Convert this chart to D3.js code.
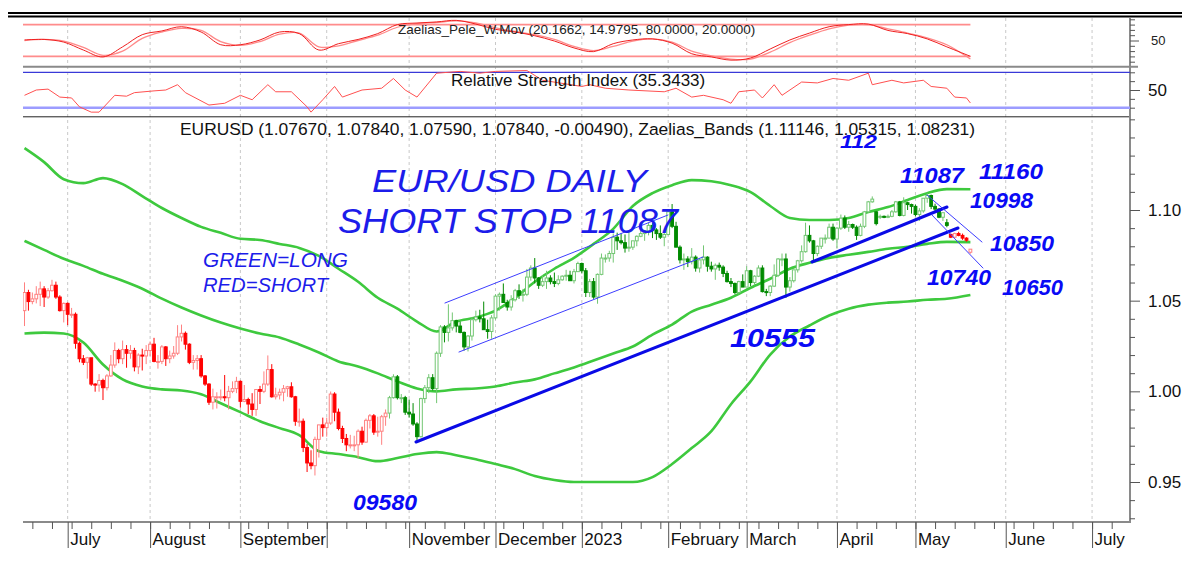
<!DOCTYPE html>
<html><head><meta charset="utf-8">
<script src="https://cdn.jsdelivr.net/npm/d3@7"></script>
<style>
body{margin:0;background:#fff}
svg{display:block}
text{font-family:"Liberation Sans",Arial,sans-serif}
</style>
</head><body>
<svg id="c" width="1184" height="564"></svg>
<script>
// ---------------- DATA ----------------
const startDate = "2022-06-16";
const open = [
 1.0445,1.0545,1.0495,1.0510,1.0535,1.0565,1.0520,1.0555,1.0585,1.0520,1.0445,
 1.0485,1.0425,1.0425,1.0265,1.0180,1.0160,1.0185,1.0040,1.0035,1.0060,1.0020,1.0085,1.0145,1.0225,1.0180,1.0230,1.0210,1.0225,1.0135,1.0200,1.0195,
 1.0225,1.0260,1.0165,1.0165,1.0245,1.0180,1.0195,1.0210,1.0300,1.0320,1.0260,1.0160,1.0170,1.0180,1.0085,1.0040,0.9940,0.9970,0.9970,0.9970,0.9965,1.0000,1.0015,
 1.0055,0.9945,0.9955,0.9930,0.9900,1.0010,1.0000,1.0040,1.0120,0.9970,0.9980,0.9995,1.0015,1.0025,0.9970,0.9835,0.9835,0.9690,0.9605,0.9590,0.9735,0.9815,
 0.9800,0.9825,0.9985,0.9885,0.9795,0.9740,0.9705,0.9705,0.9705,0.9780,0.9720,0.9840,0.9865,0.9775,0.9780,0.9860,0.9880,0.9965,1.0080,0.9965,0.9965,
 0.9885,0.9875,0.9820,0.9750,0.9960,1.0020,1.0075,1.0015,1.0210,1.0355,1.0325,1.0350,1.0390,1.0360,1.0325,1.0245,1.0305,1.0395,1.0410,1.0400,1.0340,1.0330,
 1.0405,1.0525,1.0535,1.0490,1.0465,1.0505,1.0555,1.0530,1.0535,1.0630,1.0680,1.0625,1.0585,1.0605,1.0625,1.0605,1.0595,1.0615,1.0635,1.0640,1.0610,1.0660,
 1.0705,1.0665,1.0545,1.0605,1.0520,1.0645,1.0735,1.0735,1.0760,1.0850,1.0830,1.0820,1.0790,1.0795,1.0830,1.0855,1.0870,1.0885,1.0915,1.0890,1.0870,1.0850,
 1.0865,1.0990,1.0910,1.0795,1.0725,1.0730,1.0715,1.0740,1.0680,1.0725,1.0740,1.0690,1.0675,1.0695,1.0685,1.0650,1.0605,1.0595,1.0545,1.0605,
 1.0575,1.0665,1.0600,1.0635,1.0680,1.0550,1.0545,1.0580,1.0640,1.0730,1.0730,1.0575,1.0610,1.0670,1.0720,1.0770,1.0860,1.0830,1.0760,1.0800,1.0845,1.0845,1.0905,
 1.0840,1.0900,1.0955,1.0905,1.0920,1.0905,1.0860,1.0910,1.0990,1.1045,1.0990,1.0960,1.0965,1.0960,1.0965,1.0990,1.1045,1.0970,1.1040,1.1030,
 1.1020,1.0975,1.0995,1.1065,1.1080,1.1020,1.1005,1.0960,1.0930,1.0865,1.0850,1.0870,1.0860,1.0845,1.0767
];
const high = [
 1.0601,1.0560,1.0545,1.0580,1.0605,1.0580,1.0570,1.0615,1.0605,1.0530,1.0490,
 1.0490,1.0460,1.0435,1.0275,1.0200,1.0190,1.0185,1.0045,1.0095,1.0070,1.0095,1.0200,1.0270,1.0235,1.0280,1.0255,1.0255,1.0240,1.0210,1.0235,1.0255,
 1.0275,1.0295,1.0200,1.0255,1.0250,1.0225,1.0250,1.0365,1.0368,1.0330,1.0265,1.0200,1.0200,1.0200,1.0090,1.0045,1.0015,0.9995,1.0010,1.0090,1.0030,1.0055,1.0080,
 1.0060,1.0035,0.9965,0.9990,1.0010,1.0030,1.0110,1.0198,1.0150,1.0020,1.0015,1.0035,1.0030,1.0050,0.9975,0.9905,0.9850,0.9710,0.9675,0.9750,0.9815,0.9855,
 0.9855,0.9999,0.9995,0.9905,0.9810,0.9765,0.9760,0.9755,0.9790,0.9805,0.9850,0.9875,0.9875,0.9860,0.9870,0.9900,0.9975,1.0094,1.0090,0.9985,0.9975,
 0.9955,0.9935,0.9830,0.9965,1.0035,1.0095,1.0095,1.0220,1.0365,1.0365,1.0480,1.0435,1.0395,1.0385,1.0330,1.0310,1.0410,1.0445,1.0450,1.0495,1.0395,1.0420,
 1.0535,1.0545,1.0595,1.0505,1.0530,1.0565,1.0590,1.0565,1.0675,1.0695,1.0735,1.0630,1.0640,1.0665,1.0640,1.0655,1.0640,1.0640,1.0670,1.0665,1.0675,1.0715,
 1.0710,1.0680,1.0620,1.0625,1.0650,1.0760,1.0755,1.0775,1.0870,1.0875,1.0870,1.0865,1.0890,1.0830,1.0860,1.0925,1.0890,1.0930,1.0930,1.0900,1.0915,1.0875,
 1.0995,1.1033,1.0935,1.0805,1.0760,1.0745,1.0790,1.0750,1.0735,1.0805,1.0745,1.0715,1.0705,1.0710,1.0695,1.0665,1.0625,1.0600,1.0610,1.0645,
 1.0690,1.0670,1.0640,1.0695,1.0695,1.0565,1.0585,1.0700,1.0735,1.0760,1.0760,1.0630,1.0670,1.0725,1.0805,1.0930,1.0915,1.0835,1.0805,1.0845,1.0865,1.0925,1.0925,
 1.0905,1.0975,1.0970,1.0940,1.0925,1.0915,1.0925,1.0995,1.1050,1.1075,1.0995,1.0975,1.0970,1.0975,1.1000,1.1050,1.1050,1.1070,1.1045,1.1035,
 1.1030,1.1010,1.1065,1.1092,1.1085,1.1035,1.1010,1.0985,1.0950,1.0870,1.0875,1.0880,1.0870,1.0850,1.0784
];
const low = [
 1.0360,1.0445,1.0480,1.0485,1.0470,1.0465,1.0510,1.0550,1.0510,1.0440,1.0380,
 1.0365,1.0405,1.0235,1.0160,1.0145,1.0070,1.0030,0.9998,0.9998,0.9952,1.0005,1.0080,1.0130,1.0155,1.0150,1.0130,1.0180,1.0110,1.0095,1.0115,1.0150,
 1.0195,1.0160,1.0125,1.0150,1.0140,1.0155,1.0180,1.0200,1.0275,1.0230,1.0150,1.0120,1.0120,1.0075,1.0030,0.9925,0.9900,0.9905,0.9950,0.9945,0.9900,0.9990,0.9990,
 0.9910,0.9940,0.9875,0.9865,0.9865,0.9930,0.9990,1.0030,0.9965,0.9955,0.9955,0.9945,0.9970,0.9965,0.9810,0.9805,0.9665,0.9555,0.9570,0.9536,0.9635,0.9750,
 0.9750,0.9815,0.9835,0.9785,0.9715,0.9670,0.9685,0.9670,0.9632,0.9705,0.9715,0.9795,0.9760,0.9750,0.9705,0.9810,0.9850,0.9960,0.9955,0.9935,0.9870,
 0.9855,0.9810,0.9730,0.9745,0.9935,0.9990,1.0005,0.9935,1.0190,1.0270,1.0275,1.0335,1.0325,1.0320,1.0225,1.0220,1.0280,1.0385,1.0380,1.0340,1.0290,1.0290,
 1.0395,1.0445,1.0490,1.0445,1.0445,1.0495,1.0510,1.0495,1.0525,1.0610,1.0595,1.0565,1.0575,1.0565,1.0590,1.0575,1.0585,1.0610,1.0610,1.0610,1.0595,1.0660,
 1.0650,1.0520,1.0520,1.0510,1.0483,1.0640,1.0710,1.0715,1.0710,1.0780,1.0810,1.0765,1.0770,1.0780,1.0800,1.0850,1.0830,1.0860,1.0845,1.0835,1.0840,1.0800,
 1.0860,1.0900,1.0795,1.0705,1.0670,1.0685,1.0700,1.0660,1.0655,1.0700,1.0660,1.0660,1.0615,1.0665,1.0630,1.0600,1.0575,1.0535,1.0535,1.0575,
 1.0575,1.0580,1.0585,1.0630,1.0545,1.0525,1.0525,1.0575,1.0630,1.0690,1.0515,1.0550,1.0600,1.0655,1.0710,1.0765,1.0820,1.0715,1.0745,1.0785,1.0815,1.0845,1.0830,
 1.0790,1.0890,1.0895,1.0880,1.0895,1.0835,1.0855,1.0900,1.0985,1.1040,1.0915,1.0950,1.0955,1.0955,1.0960,1.0985,1.0965,1.0965,1.1000,1.0980,
 1.0965,1.0940,1.0985,1.1040,1.1005,1.0995,1.0955,1.0940,1.0905,1.0845,1.0845,1.0855,1.0835,1.0825,1.0759
];
const close = [
 1.0545,1.0495,1.0510,1.0535,1.0565,1.0520,1.0555,1.0585,1.0520,1.0445,1.0485,
 1.0425,1.0425,1.0265,1.0180,1.0160,1.0185,1.0040,1.0035,1.0060,1.0020,1.0085,1.0145,1.0225,1.0180,1.0230,1.0210,1.0225,1.0135,1.0200,1.0195,1.0225,
 1.0260,1.0165,1.0165,1.0245,1.0180,1.0195,1.0210,1.0300,1.0320,1.0260,1.0160,1.0170,1.0180,1.0085,1.0040,0.9940,0.9970,0.9970,0.9970,0.9965,1.0000,1.0015,1.0055,
 0.9945,0.9955,0.9930,0.9900,1.0010,1.0000,1.0040,1.0120,0.9970,0.9980,0.9995,1.0015,1.0025,0.9970,0.9835,0.9835,0.9690,0.9605,0.9590,0.9735,0.9815,0.9800,
 0.9825,0.9985,0.9885,0.9795,0.9740,0.9705,0.9705,0.9705,0.9780,0.9720,0.9840,0.9865,0.9775,0.9780,0.9860,0.9880,0.9965,1.0080,0.9965,0.9965,0.9885,
 0.9875,0.9820,0.9750,0.9960,1.0020,1.0075,1.0015,1.0210,1.0355,1.0325,1.0350,1.0390,1.0360,1.0325,1.0245,1.0305,1.0395,1.0410,1.0400,1.0340,1.0330,1.0405,
 1.0525,1.0535,1.0490,1.0465,1.0505,1.0555,1.0530,1.0535,1.0630,1.0680,1.0625,1.0585,1.0605,1.0625,1.0605,1.0595,1.0615,1.0635,1.0640,1.0610,1.0660,1.0705,
 1.0665,1.0545,1.0605,1.0520,1.0645,1.0735,1.0735,1.0760,1.0850,1.0830,1.0820,1.0790,1.0795,1.0830,1.0855,1.0870,1.0885,1.0915,1.0890,1.0870,1.0850,1.0865,
 1.0990,1.0910,1.0795,1.0725,1.0730,1.0715,1.0740,1.0680,1.0725,1.0740,1.0690,1.0675,1.0695,1.0685,1.0650,1.0605,1.0595,1.0545,1.0605,1.0575,
 1.0665,1.0600,1.0635,1.0680,1.0550,1.0545,1.0580,1.0640,1.0730,1.0730,1.0575,1.0610,1.0670,1.0720,1.0770,1.0860,1.0830,1.0760,1.0800,1.0845,1.0845,1.0905,1.0840,
 1.0900,1.0955,1.0905,1.0920,1.0905,1.0860,1.0910,1.0990,1.1045,1.1060,1.0925,1.0965,1.0960,1.0965,1.0990,1.1045,1.0970,1.1040,1.1030,1.1020,
 1.0975,1.0995,1.1065,1.1080,1.1020,1.1005,1.0960,1.0985,1.0915,1.0850,1.0870,1.0860,1.0845,1.0833,1.0784
];
// trading signal changes (date of first bar of each regime)
const signalDates = ["2022-06-16","2022-10-25","2023-05-12"];
const signalKinds = ["short","long","short"];

// Zaelias bands sampled at bar indices
const bandIdx = [0,5,10,15,20,25,30,35,40,45,50,55,60,65,70,75,80,85,90,95,100,105,110,115,120,125,130,135,140,145,150,155,160,165,170,175,180,185,190,195,200,205,210,215,220,225,230,235,241];
const bandUpper = [1.1341,1.1264,1.1170,1.1148,1.1176,1.1143,1.1077,1.1011,1.0956,1.0907,1.0874,1.0841,1.0835,1.0813,1.0791,1.0747,1.0676,1.0604,1.0516,1.0456,1.0385,1.0330,1.0385,1.0407,1.0445,1.0516,1.0604,1.0676,1.0736,1.0813,1.0896,1.1022,1.1093,1.1137,1.1165,1.1159,1.1137,1.1099,1.1022,1.0956,1.0945,1.0945,1.0956,1.0989,1.1016,1.1055,1.1093,1.1115,1.11146];
const bandMiddle = [1.0830,1.0780,1.0731,1.0692,1.0648,1.0610,1.0566,1.0511,1.0462,1.0418,1.0379,1.0346,1.0319,1.0297,1.0258,1.0214,1.0165,1.0137,1.0099,1.0055,1.0016,1.0000,1.0011,1.0016,1.0027,1.0049,1.0066,1.0099,1.0132,1.0170,1.0209,1.0247,1.0313,1.0368,1.0440,1.0478,1.0516,1.0571,1.0621,1.0676,1.0709,1.0736,1.0753,1.0769,1.0786,1.0797,1.0813,1.0824,1.08231];
const bandLower = [1.0319,1.0324,1.0319,1.0269,1.0148,1.0066,1.0027,1.0011,1.0005,0.9984,0.9934,0.9885,0.9835,0.9797,0.9758,0.9670,0.9654,0.9637,0.9615,0.9632,0.9654,0.9665,0.9648,0.9626,0.9599,0.9571,0.9533,0.9511,0.9500,0.9500,0.9500,0.9500,0.9527,0.9599,0.9687,0.9780,0.9929,1.0055,1.0203,1.0302,1.0363,1.0418,1.0456,1.0478,1.0489,1.0495,1.0505,1.0511,1.05315];

// Zaelias_Pele_W.Mov oscillator (two lines), same sample indices
const peleFast = [51,52,47,32,19,38,61,68,76,66,42,42,51,66,63,32,44,52,63,80,83,85,88,81,71,66,59,49,36,29,44,51,53,45,25,19,13,17,34,51,64,76,80,81,69,63,53,38,20.1662];
const peleSlow = [50,52,49,37,22,30,54,66,73,69,48,41,48,62,64,38,40,50,60,75,82,84,87,83,74,67,61,52,39,31,39,49,53,47,30,21,15,15,28,46,60,72,79,80,72,64,55,42,14.9795];
const peleLevels = [80, 20];

// RSI
const rsiIdx = [0,3,6,9,12,14,17,19,23,26,28,33,36,39,41,47,51,55,58,62,64,68,72,73,76,79,81,86,91,94,97,100,105,111,116,120,128,132,142,144,148,154,163,166,170,173,178,180,182,186,188,191,193,198,202,206,210,215,216,221,224,229,231,235,237,240,241];
const rsiVal = [44,50,51,42,41,31,25,25,44,43,47,49,50,56,47,33,35,44,39,56,48,48,31,25,39,54,42,50,52,63,50,42,69,71,69,71,72,61,54,56,52,50,48,52,42,44,39,35,48,50,41,56,44,59,58,63,61,69,56,61,58,61,54,52,42,41,35.3433];
const rsiLevels = [70, 30];

// axis labels
const monthLabels = ["July","August","September","","November","December","2023","February","March","April","May","June","July"];
const priceMajor = [0.95,1.00,1.05,1.10];

// drawn trend lines [barIndex, price]
const trendLines = [
  {a:[99.75,0.97206], b:[237.83,1.09007], w:3},
  {a:[200.64,1.07132], b:[235.03,1.10165], w:3},
  {a:[107.13,1.04871], b:[163.95,1.09724], w:1},
  {a:[110.70,1.02169], b:[172.87,1.07408], w:1},
  {a:[229.94,1.10827], b:[243.95,1.08235], w:1},
  {a:[231.21,1.09724], b:[244.20,1.06801], w:1}
];

// ---------------- DRAW ----------------
const svg = d3.select("#c");
const L = 23, R = 1130;
const X = d3.scaleLinear().domain([0, 241]).range([24.5, 970.4]);
const Y = d3.scaleLinear().domain([0.95, 1.10]).range([482, 210]);
const Y1 = d3.scaleLinear().domain([0, 100]).range([67, 14]);
const Y2 = d3.scaleLinear().domain([0, 100]).range([134.25, 45.75]);

function tradingDays(start, n){
  const out=[]; const d=new Date(start+"T00:00:00Z");
  while(out.length<n){ const wd=d.getUTCDay(); if(wd!==0&&wd!==6) out.push(new Date(d)); d.setUTCDate(d.getUTCDate()+1); }
  return out;
}
const days = tradingDays(startDate, 283);
const fmt = d3.utcFormat("%Y-%m-%d");
const monthStarts = [], mondays = [];
for(let i=1;i<days.length;i++){
  if(days[i].getUTCMonth()!==days[i-1].getUTCMonth()) monthStarts.push(i);
  if(days[i].getUTCDay()===1) mondays.push(i);
}

const defs = svg.append("defs");
defs.append("clipPath").attr("id","cm").append("rect").attr("x",L).attr("y",118).attr("width",R-L).attr("height",404);
defs.append("clipPath").attr("id","c1").append("rect").attr("x",L).attr("y",18).attr("width",R-L).attr("height",48);
defs.append("clipPath").attr("id","c2").append("rect").attr("x",L).attr("y",68).attr("width",R-L).attr("height",48);

// gridlines
svg.append("g").selectAll("line").data(monthStarts.filter(i=>X(i)<R)).join("line")
  .attr("x1",i=>X(i)).attr("x2",i=>X(i)).attr("y1",18).attr("y2",522)
  .attr("stroke","#c8c8c8").attr("stroke-width",1).attr("stroke-dasharray","3,3");

// frame lines
svg.append("line").attr("x1",8).attr("x2",1182).attr("y1",13).attr("y2",13).attr("stroke","#000").attr("stroke-width",2);
svg.append("line").attr("x1",8).attr("x2",1182).attr("y1",16.5).attr("y2",16.5).attr("stroke","#000").attr("stroke-width",2);
svg.append("line").attr("x1",L).attr("x2",R+8).attr("y1",66.8).attr("y2",66.8).attr("stroke","#8a8a8a").attr("stroke-width",2);
svg.append("line").attr("x1",L).attr("x2",R).attr("y1",116.8).attr("y2",116.8).attr("stroke","#222").attr("stroke-width",1);
svg.append("line").attr("x1",R).attr("x2",R).attr("y1",18).attr("y2",523).attr("stroke","#8a8a8a").attr("stroke-width",2);
svg.append("line").attr("x1",L).attr("x2",R).attr("y1",522).attr("y2",522).attr("stroke","#8a8a8a").attr("stroke-width",2);

// ---- Panel 1: Zaelias_Pele_W.Mov
const p1 = svg.append("g").attr("clip-path","url(#c1)");
p1.selectAll("line.lv").data(peleLevels).join("line")
  .attr("x1",L).attr("x2",X(241)).attr("y1",d=>Y1(d)).attr("y2",d=>Y1(d))
  .attr("stroke","#ff8c8c").attr("stroke-width",1.6);
const peleLine = (arr)=>d3.line().x((d,i)=>X(bandIdx[i])).y(d=>Y1(d)).curve(d3.curveCatmullRom)(arr);
p1.append("path").attr("d",peleLine(peleSlow)).attr("fill","none").attr("stroke","#ff8a8a").attr("stroke-width",1.3);
p1.append("path").attr("d",peleLine(peleFast)).attr("fill","none").attr("stroke","#f02020").attr("stroke-width",1);
svg.append("text").attr("x",398).attr("y",33.5).attr("font-size",13.5).attr("fill","#222")
  .text("Zaelias_Pele_W.Mov (20.1662, 14.9795, 80.0000, 20.0000)");
const ax1 = svg.append("g").attr("transform",`translate(${R},0)`);
ax1.call(d3.axisRight(Y1).tickValues([10,20,30,40,60,70,80,90]).tickSize(5).tickFormat(""));
const ax1b = svg.append("g").attr("transform",`translate(${R},0)`);
ax1b.call(d3.axisRight(Y1).tickValues([50]).tickSize(9).tickPadding(12).tickFormat(d3.format("d")));
ax1b.selectAll("text").attr("font-size",13).attr("fill","#222").attr("font-family","Liberation Sans, Arial, sans-serif");

// ---- Panel 2: RSI
const p2 = svg.append("g").attr("clip-path","url(#c2)");
p2.append("line").attr("x1",L).attr("x2",R).attr("y1",Y2(rsiLevels[0])).attr("y2",Y2(rsiLevels[0])).attr("stroke","#3a3ad8").attr("stroke-width",1.2);
p2.append("line").attr("x1",L).attr("x2",R).attr("y1",Y2(rsiLevels[1])).attr("y2",Y2(rsiLevels[1])).attr("stroke","#9c9cff").attr("stroke-width",2.6);
p2.append("path").attr("d",d3.line().x((d,i)=>X(rsiIdx[i])).y(d=>Y2(d))(rsiVal))
  .attr("fill","none").attr("stroke","#ff5050").attr("stroke-width",1);
svg.append("text").attr("x",451).attr("y",86).attr("font-size",17).attr("fill","#111")
  .text("Relative Strength Index (35.3433)");
const ax2 = svg.append("g").attr("transform",`translate(${R},0)`);
ax2.call(d3.axisRight(Y2).tickValues([30,40,60,70]).tickSize(5).tickFormat(""));
const ax2b = svg.append("g").attr("transform",`translate(${R},0)`);
ax2b.call(d3.axisRight(Y2).tickValues([50]).tickSize(10).tickPadding(8).tickFormat(d3.format("d")));
ax2b.selectAll("text").attr("font-size",17).attr("fill","#111").attr("font-family","Liberation Sans, Arial, sans-serif");

// ---- Main panel
svg.append("text").attr("x",180).attr("y",135).attr("font-size",17.4).attr("fill","#111")
  .text("EURUSD (1.07670, 1.07840, 1.07590, 1.07840, -0.00490), Zaelias_Bands (1.11146, 1.05315, 1.08231)");

const pm = svg.append("g").attr("clip-path","url(#cm)");
const bandLine = d3.line().x((d,i)=>X(bandIdx[i])).y(d=>Y(d)).curve(d3.curveMonotoneX);
[bandUpper,bandMiddle,bandLower].forEach(b=>{
  pm.append("path").attr("d",bandLine(b)).attr("fill","none").attr("stroke","#3ec93e").attr("stroke-width",2.6);
});

// candles
const sigStart = signalDates.map(s=>days.findIndex(d=>fmt(d)===s));
function signalOf(i){ let k=0; for(let j=0;j<sigStart.length;j++) if(i>=sigStart[j]) k=j; return signalKinds[k]; }
const bars = close.map((c,i)=>({i,o:open[i],h:high[i],l:low[i],c,s:signalOf(i)}));
const col = b=>{
  const up = b.c>=b.o;
  if(b.s==="long") return up?"#72c672":"#008a00";
  return up?"#ff8080":"#ff0000";
};
const cg = pm.append("g");
cg.selectAll("line").data(bars).join("line")
  .attr("x1",b=>X(b.i)).attr("x2",b=>X(b.i)).attr("y1",b=>Y(b.h)).attr("y2",b=>Y(b.l))
  .attr("stroke",col).attr("stroke-width",1);
cg.selectAll("rect").data(bars).join("rect")
  .attr("x",b=>X(b.i)-1.4).attr("width",2.8)
  .attr("y",b=>Y(Math.max(b.o,b.c))).attr("height",b=>Math.max(1,Math.abs(Y(b.o)-Y(b.c))))
  .attr("fill",b=>b.c>=b.o?"#fff":col(b)).attr("stroke",col).attr("stroke-width",1);

// trend lines
pm.selectAll("line.tl").data(trendLines).join("line").attr("class","tl")
  .attr("x1",d=>X(d.a[0])).attr("y1",d=>Y(d.a[1])).attr("x2",d=>X(d.b[0])).attr("y2",d=>Y(d.b[1]))
  .attr("stroke",d=>d.w>1?"#0a0ae6":"#3d3dff").attr("stroke-width",d=>d.w).attr("stroke-linecap","round");

// right price axis
const axm = svg.append("g").attr("transform",`translate(${R},0)`);
axm.call(d3.axisRight(Y).tickValues(d3.range(93,116).map(v=>v/100).filter(v=>!priceMajor.some(m=>Math.abs(m-v)<1e-6))).tickSize(5).tickFormat(""));
const axm2 = svg.append("g").attr("transform",`translate(${R},0)`);
axm2.call(d3.axisRight(Y).tickValues(priceMajor).tickSize(10).tickPadding(8).tickFormat(d3.format(".2f")));
axm2.selectAll("text").attr("font-size",17).attr("fill","#111").attr("font-family","Liberation Sans, Arial, sans-serif");
[ax1,ax1b,ax2,ax2b,axm,axm2].forEach(a=>{a.select(".domain").remove(); a.selectAll("line").attr("stroke","#555");});

// bottom time axis
const axw = svg.append("g").attr("transform","translate(0,522)");
axw.call(d3.axisBottom(X).tickValues(mondays.filter(i=>X(i)<R && X(i)>L)).tickSize(7).tickFormat(""));
const axmo = svg.append("g").attr("transform","translate(0,522)");
axmo.call(d3.axisBottom(X).tickValues(monthStarts.filter(i=>X(i)<R)).tickSize(26).tickFormat(""));
[axw,axmo].forEach(a=>{a.select(".domain").remove(); a.selectAll("line").attr("stroke","#555");});
svg.append("g").selectAll("text").data(monthStarts.filter(i=>X(i)<R).map((i,k)=>({i,t:monthLabels[k]||""}))).join("text")
  .attr("x",d=>X(d.i)+2.5).attr("y",545).attr("font-size",17).attr("fill","#111").text(d=>d.t);

// annotations
const hand = svg.append("g").attr("fill","#1c1cea").attr("font-style","italic")
  .attr("font-family","DejaVu Sans, sans-serif").attr("font-weight",200);
[["EUR/USD DAILY",372,192,275,32],["SHORT STOP 11087",338,233,340,35],["GREEN=LONG",203,267,145,20],["RED=SHORT",203,292,125,20]]
 .forEach(([t,x,y,w,fs])=>hand.append("text").attr("x",x).attr("y",y).attr("font-size",fs)
   .attr("textLength",w).attr("lengthAdjust","spacingAndGlyphs").text(t));
const nums = svg.append("g").attr("fill","#0a0af5").attr("font-style","italic").attr("font-weight","bold");
[["112",840,148,37,19],["11087",900,183,64,22],["11160",979,179,64,22],["10998",970,208,63,22],
 ["10850",990,251,64,22],["10740",927,285,64,22],["10650",1002,295,61,22],["10555",730,347,85,26],["09580",353,510,64,22]]
 .forEach(([t,x,y,w,fs])=>nums.append("text").attr("x",x).attr("y",y).attr("font-size",fs)
   .attr("textLength",w).attr("lengthAdjust","spacingAndGlyphs").text(t));
</script>
</body></html>
